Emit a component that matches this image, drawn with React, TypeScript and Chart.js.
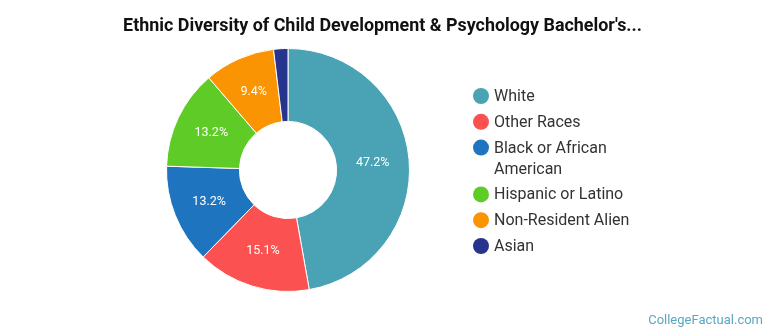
import React, { useEffect, useRef } from "react";
import { Chart, registerables } from "chart.js";

Chart.register(...registerables);

const categories = ["White", "Other Races", "Black or African American", "Hispanic or Latino", "Non-Resident Alien", "Asian"];
const legendLines = [["White"], ["Other Races"], ["Black or African", "American"], ["Hispanic or Latino"], ["Non-Resident Alien"], ["Asian"]];
const values = [47.2, 15.1, 13.2, 13.2, 9.4, 1.9];
const labelTexts = ["47.2%", "15.1%", "13.2%", "13.2%", "9.4%", ""];
const colors = ["#4aa3b5", "#fc5151", "#1f74bf", "#5fcb26", "#fb9402", "#27348e"];
const titleText = "Ethnic Diversity of Child Development & Psychology Bachelor's...";
const watermark = "CollegeFactual.com";

const FONT = "Roboto, 'Open Sans', sans-serif";

const overlayPlugin = {
  id: "overlay",
  afterDatasetsDraw(chart: any) {
    const ctx = chart.ctx;
    const meta = chart.getDatasetMeta(0);
    ctx.save();
    ctx.font = `12.5px ${FONT}`;
    ctx.fillStyle = "#ffffff";
    ctx.textAlign = "center";
    ctx.textBaseline = "middle";
    meta.data.forEach((arc: any, i: number) => {
      const t = labelTexts[i];
      if (!t) return;
      const p = arc.getCenterPoint();
      ctx.fillText(t, p.x, p.y);
    });
    // title
    ctx.font = `bold 17.9px ${FONT}`;
    ctx.fillStyle = "#111111";
    ctx.fillText(titleText, 382.5, 27);
    // legend
    ctx.textAlign = "left";
    ctx.font = `16px ${FONT}`;
    let y = 96;
    legendLines.forEach((lines, i) => {
      ctx.fillStyle = colors[i];
      ctx.beginPath();
      ctx.arc(481, y, 8, 0, Math.PI * 2);
      ctx.fill();
      ctx.fillStyle = "#333333";
      lines.forEach((ln, j) => {
        ctx.fillText(ln, 494, y + 1 + j * 21);
      });
      y += 25.8 + (lines.length - 1) * 21;
    });
    // watermark
    ctx.textAlign = "right";
    ctx.font = `13px ${FONT}`;
    ctx.fillStyle = "#5ba7c0";
    ctx.fillText(watermark, 763, 321);
    ctx.restore();
  },
};

export default function App() {
  const ref = useRef<HTMLCanvasElement | null>(null);
  useEffect(() => {
    if (!ref.current) return;
    const chart = new Chart(ref.current, {
      type: "doughnut",
      data: {
        labels: categories,
        datasets: [
          {
            data: values,
            backgroundColor: colors,
            borderColor: "#ffffff",
            borderWidth: 1,
          },
        ],
      },
      options: {
        animation: false,
        responsive: true,
        maintainAspectRatio: false,
        cutout: "40%",
        layout: { padding: { left: 166, right: 360, top: 48, bottom: 43 } },
        plugins: {
          legend: { display: false },
          tooltip: { enabled: false },
          title: { display: false },
        },
      },
      plugins: [overlayPlugin],
    });
    return () => chart.destroy();
  }, []);
  return (
    <div style={{ position: "absolute", left: 0, top: 0, width: 770, height: 335, background: "#fff" }}>
      <canvas ref={ref} />
    </div>
  );
}
